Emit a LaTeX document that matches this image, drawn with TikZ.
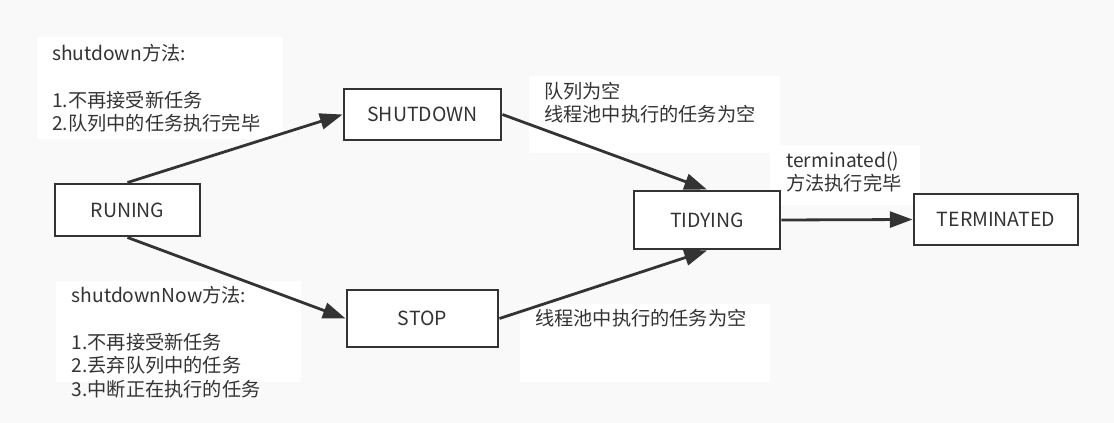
\documentclass[tikz,border=0pt]{standalone}
\usepackage{fontspec}
\setmainfont{Noto Sans CJK SC}
\usetikzlibrary{arrows.meta}
\definecolor{bg}{HTML}{F9F9F9}
\definecolor{ink}{HTML}{333333}
\begin{document}
\begin{tikzpicture}[x=0.75pt,y=-0.75pt,
  state/.style={draw=ink, line width=2.2pt, fill=white, text=ink, inner sep=0pt,
    font=\fontsize{14.6}{17.6}\selectfont},
  lblbox/.style={fill=white},
  txt/.style={anchor=north west, align=left, inner sep=0pt, text=ink,
    font=\fontsize{14.4}{17.6}\selectfont},
  conn/.style={draw=ink, line width=2.1pt, -{Triangle[length=17pt,width=12pt]}}]
\useasboundingbox (0,0) rectangle (1114,423);
\fill[bg] (0,0) rectangle (1114,423);
% label backgrounds
\fill[lblbox] (37,37) rectangle (283,139);
\fill[lblbox] (56,281) rectangle (301,382);
\fill[lblbox] (529,76) rectangle (780,153);
\fill[lblbox] (770,145) rectangle (920,205);
\fill[lblbox] (520,304) rectangle (770,382);
% label texts
\node[txt] (tA) at (52,44) {shutdown方法:\\[\baselineskip]1.不再接受新任务\\2.队列中的任务执行完毕};
\node[txt] (tB) at (71.5,286) {shutdownNow方法:\\[\baselineskip]1.不再接受新任务\\2.丢弃队列中的任务\\3.中断正在执行的任务};
\node[txt] (tC) at (544,82) {队列为空\\线程池中执行的任务为空};
\node[txt] (tD) at (786,151.5) {terminated()\\方法执行完毕};
\node[txt] (tE) at (535,309) {线程池中执行的任务为空};
% states
\node[state, minimum width=108.75pt, minimum height=39pt] (run) at (127.5,210) {RUNING};
\node[state, minimum width=117.75pt, minimum height=38.25pt] (shut) at (422.5,114.5) {SHUTDOWN};
\node[state, minimum width=113.25pt, minimum height=42.75pt] (stop) at (422.5,318.5) {STOP};
\node[state, minimum width=109.5pt, minimum height=43.5pt] (tidy) at (707,220) {TIDYING};
\node[state, minimum width=123pt, minimum height=38.25pt] (term) at (996,219.5) {TERMINATED};
% connectors
\draw[conn] (run.north) -- (shut.west);
\draw[conn] (run.south) -- (stop.west);
\draw[conn] (shut.east) -- (tidy.north);
\draw[conn] (stop.east) -- (tidy.south);
\draw[conn] (tidy.east) -- (term.west);
\end{tikzpicture}
\end{document}
